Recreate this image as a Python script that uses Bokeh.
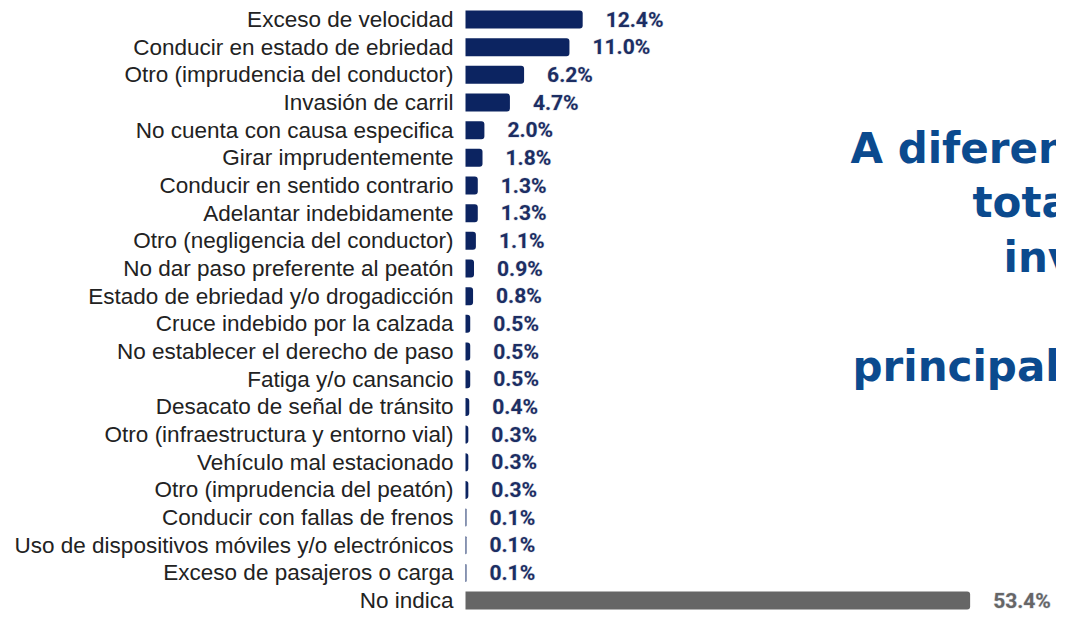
from bokeh.plotting import figure
from bokeh.models import ColumnDataSource, Range1d, Label
from bokeh.core.properties import value
from bokeh.embed import file_html
from bokeh.resources import INLINE

categories = [
    "Exceso de velocidad",
    "Conducir en estado de ebriedad",
    "Otro (imprudencia del conductor)",
    "Invasión de carril",
    "No cuenta con causa especifica",
    "Girar imprudentemente",
    "Conducir en sentido contrario",
    "Adelantar indebidamente",
    "Otro (negligencia del conductor)",
    "No dar paso preferente al peatón",
    "Estado de ebriedad y/o drogadicción",
    "Cruce indebido por la calzada",
    "No establecer el derecho de paso",
    "Fatiga y/o cansancio",
    "Desacato de señal de tránsito",
    "Otro (infraestructura y entorno vial)",
    "Vehículo mal estacionado",
    "Otro (imprudencia del peatón)",
    "Conducir con fallas de frenos",
    "Uso de dispositivos móviles y/o electrónicos",
    "Exceso de pasajeros o carga",
    "No indica",
]
values = [12.4, 11.0, 6.2, 4.7, 2.0, 1.8, 1.3, 1.3, 1.1, 0.9, 0.8,
          0.5, 0.5, 0.5, 0.4, 0.3, 0.3, 0.3, 0.1, 0.1, 0.1, 53.4]
grey_categories = ["No indica"]
title_lines = ["A diferenc", "total", "inv", "", "principalm"]

NAVY = "#0c2461"
GREY = "#666666"
LABEL_NAVY = "#1c2e63"
HALO = "#d9dde6"
TITLE_BLUE = "#0b4a8e"

W, H = 1056, 614
PX_PER_X = 9.45
X0_PX = 465
ROW = 27.67
ROW0_PX = 19

x_start = -X0_PX / PX_PER_X
x_end = x_start + W / PX_PER_X
y_top = -ROW0_PX / ROW
y_bottom = y_top + H / ROW

bar_colors = [GREY if c in grey_categories else NAVY for c in categories]
label_colors = [GREY if c in grey_categories else LABEL_NAVY for c in categories]
src = ColumnDataSource(dict(
    y=list(range(len(categories))),
    cat=categories,
    val=values,
    label=[f"{v:.1f}%" for v in values],
    color=bar_colors,
    lcolor=label_colors,
))

p = figure(width=W, height=H, x_range=Range1d(x_start, x_end),
           y_range=Range1d(y_bottom, y_top), output_backend="svg",
           toolbar_location=None, x_axis_type=None, y_axis_type=None,
           min_border=0)
p.outline_line_color = None
p.background_fill_color = "white"

p.hbar(y="y", left=0, right="val", height=18 / ROW, fill_color="color",
       line_color=None, border_radius=(0, 3, 3, 0), source=src)

p.text(x=0, y="y", text="cat", x_offset=-12, text_align="right",
       text_baseline="middle", text_font=value("Liberation Sans"),
       text_font_size="22.5px", text_color="#222222", source=src)

# halo layer under the value labels
p.text(x="val", y="y", text="label", x_offset=23, text_align="left",
       text_baseline="middle", text_font=value("Roboto"),
       text_font_style="bold", text_font_size="21px",
       text_color=HALO, text_outline_color=HALO, source=src)
p.text(x="val", y="y", text="label", x_offset=23, text_align="left",
       text_baseline="middle", text_font=value("Roboto"),
       text_font_style="bold", text_font_size="21px",
       text_color="lcolor", source=src)

title_x_px = [850, 972, 1003, None, 852]
title_y_px = [148, 202, 257, None, 366]
for txt, xp, yp in zip(title_lines, title_x_px, title_y_px):
    if not txt:
        continue
    p.add_layout(Label(x=x_start + xp / PX_PER_X, y=y_top + yp / ROW,
                       text=txt, text_align="left", text_baseline="alphabetic",
                       text_font="DejaVu Sans", text_font_style="bold",
                       text_font_size="42px", text_color=TITLE_BLUE))

open("out.html", "w").write(file_html(p, INLINE))
